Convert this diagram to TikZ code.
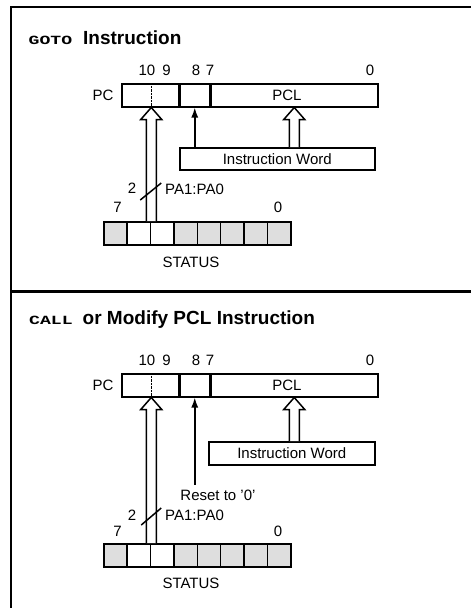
\documentclass[tikz,border=0pt]{standalone}
\usepackage{fontspec}
\setmainfont{Liberation Sans}
\setmonofont{Liberation Mono}
\usetikzlibrary{calc,arrows.meta}

\newcommand{\opc}[1]{\scalebox{1.45}[1]{\bfseries\ttfamily\fontsize{12.5}{14}\selectfont #1}}
% wide open arrow, from #1 straight up to the height of #2
\newcommand{\hollowup}[2]{%
  \draw[regline,fill=white] let \p1=(#1), \p2=(#2) in
    (\x1-5pt,\y1) -- (\x1-5pt,\y2-12pt) -- (\x1-10.5pt,\y2-12pt) -- (\x1,\y2)
    -- (\x1+10.5pt,\y2-12pt) -- (\x1+5pt,\y2-12pt) -- (\x1+5pt,\y1);}

\begin{document}
\begin{tikzpicture}
  [x=1pt,y=-1pt,
   regline/.style={line width=1.5pt},
   cell/.style={draw,regline,minimum height=23pt,inner sep=0pt,anchor=north west},
   bitcell/.style={cell,minimum width=23.375pt},
   lbl/.style={font=\fontsize{15}{17}\selectfont,inner sep=0pt},
   ttl/.style={font=\fontsize{19}{22}\selectfont\bfseries,inner sep=0pt,anchor=base west},
   frame/.style={line width=2.3pt},
   tip/.style={-{Latex[length=10pt,width=7pt]}},
  ]
  \useasboundingbox (0,0) rectangle (471,608);

  % frame
  \draw[frame] (475,7) -- (11,7) -- (11,612);
  \draw[frame] (11,291.5) -- (475,291.5);

  % GOTO
  \node[ttl] (gttl) at (28.5,44) {\opc{GOTO}\hspace{11pt}Instruction};

  \node[cell,minimum width=57pt] (gpchi) at (121,83) {};
  \node[cell,minimum width=29pt] (gpc8) at (gpchi.north east) {};
  \node[cell,minimum width=167pt] (gpcl) at (gpc8.north east) {};
  \draw[densely dotted,thin] ($(gpchi.north west)+(30,0)$) -- ($(gpchi.south west)+(30,0)$);
  \node[lbl] (gpc) at (103,95) {PC};
  \node[lbl] (gpcltxt) at (287,95) {PCL};
  \node[lbl] (gb10) at (147,70) {10};
  \node[lbl] (gb9) at (166.5,70) {9};
  \node[lbl] (gb8) at (196,70) {8};
  \node[lbl] (gb7) at (210,70) {7};
  \node[lbl] (gb0) at (370,70) {0};

  \node[cell,lbl,minimum width=195pt,minimum height=22pt] (giw) at (179,147) {Instruction Word};

  \foreach \b/\col in {7/black!13,6/white,5/white,4/black!13,3/black!13,2/black!13,1/black!13,0/black!13}
    \node[bitcell,fill=\col] (gs\b) at ({103+(7-\b)*23.375},221) {};
  \node[lbl] (gs7txt) at ($(gs7.north)+(2,-14)$) {7};
  \node[lbl] (gs0txt) at ($(gs0.north)+(-1,-14)$) {0};
  \node[lbl] (gstatus) at (191,262) {STATUS};

  \hollowup{gs6.north east}{gpchi.south}
  \hollowup{giw.north -| gpcl.south}{gpcl.south}
  \draw[regline,tip] (giw.north -| gpc8.south) -- (gpc8.south);

  \coordinate (gcut) at ($(gs6.north east)+(0,-29)$);
  \draw[regline] ($(gcut)+(-11,8)$) -- ($(gcut)+(10,-9)$);
  \node[lbl] (gw2) at (132,188) {2};
  \node[lbl,anchor=west] (gpa) at (165,189) {PA1:PA0};

  % CALL
  \node[ttl] (cttl) at (29,324) {\opc{CALL}\hspace{10pt}or Modify PCL Instruction};

  \node[cell,minimum width=57pt] (cpchi) at (121,373) {};
  \node[cell,minimum width=29pt] (cpc8) at (cpchi.north east) {};
  \node[cell,minimum width=167pt] (cpcl) at (cpc8.north east) {};
  \draw[densely dotted,thin] ($(cpchi.north west)+(30,0)$) -- ($(cpchi.south west)+(30,0)$);
  \node[lbl] (cpc) at (103,385) {PC};
  \node[lbl] (cpcltxt) at (287,385) {PCL};
  \node[lbl] (cb10) at (147,360) {10};
  \node[lbl] (cb9) at (166.5,360) {9};
  \node[lbl] (cb8) at (196,360) {8};
  \node[lbl] (cb7) at (210,360) {7};
  \node[lbl] (cb0) at (370,360) {0};

  \node[cell,lbl,minimum width=166pt,minimum height=23pt] (ciw) at (208,441) {Instruction Word};

  \foreach \b/\col in {7/black!13,6/white,5/white,4/black!13,3/black!13,2/black!13,1/black!13,0/black!13}
    \node[bitcell,fill=\col] (cs\b) at ({103+(7-\b)*23.375},543) {};
  \node[lbl] (cs7txt) at ($(cs7.north)+(2,-12)$) {7};
  \node[lbl] (cs0txt) at ($(cs0.north)+(-1,-12)$) {0};
  \node[lbl] (cstatus) at (191,583) {STATUS};

  \hollowup{cs6.north east}{cpchi.south}
  \hollowup{ciw.north -| cpcl.south}{cpcl.south}
  \coordinate (crst) at ($(cpc8.south)+(0,87)$);
  \draw[regline,tip] (crst) -- (cpc8.south);
  \node[lbl] (creset) at (218,495) {Reset to '0'};

  \coordinate (ccut) at ($(cs6.north east)+(0,-26)$);
  \draw[regline] ($(ccut)+(-10,8)$) -- ($(ccut)+(10,-9)$);
  \node[lbl] (cw2) at (132,515) {2};
  \node[lbl,anchor=west] (cpa) at (165,515) {PA1:PA0};
\end{tikzpicture}
\end{document}
